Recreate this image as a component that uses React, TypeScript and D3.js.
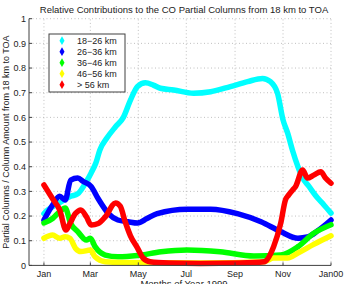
import * as d3 from "d3";

// day of year -> fraction
const cyan18_26: [number, number][] = [
  [1, 0.21], [6, 0.225], [19, 0.25], [35, 0.28], [44, 0.29], [55, 0.34], [61, 0.375],
  [67, 0.415], [72, 0.467], [81, 0.516], [92, 0.562], [102, 0.6], [111, 0.67], [120, 0.725],
  [130, 0.74], [140, 0.731], [149, 0.718], [166, 0.711], [191, 0.698], [213, 0.704],
  [238, 0.725], [260, 0.745], [279, 0.758], [289, 0.745], [298, 0.698], [305, 0.59],
  [311, 0.535], [317, 0.467], [324, 0.4], [330, 0.354], [338, 0.32], [349, 0.273],
  [357, 0.245], [366, 0.212],
];
const blue26_36: [number, number][] = [
  [1, 0.184], [12, 0.245], [21, 0.28], [28, 0.265], [35, 0.346], [44, 0.354], [51, 0.34],
  [61, 0.32], [70, 0.27], [83, 0.21], [95, 0.184], [108, 0.177], [120, 0.172], [132, 0.19],
  [145, 0.21], [183, 0.228], [213, 0.228], [247, 0.21], [277, 0.177], [302, 0.137],
  [324, 0.11], [336, 0.115], [349, 0.14], [366, 0.184],
];
const green36_46: [number, number][] = [
  [1, 0.172], [12, 0.19], [21, 0.218], [28, 0.233], [35, 0.17], [44, 0.137], [55, 0.103],
  [60, 0.11], [66, 0.076], [79, 0.042], [95, 0.035], [120, 0.04], [150, 0.055], [183, 0.062],
  [225, 0.055], [268, 0.038], [302, 0.042], [324, 0.076], [344, 0.13], [366, 0.165],
];
const yellow46_56: [number, number][] = [
  [1, 0.11], [12, 0.123], [21, 0.11], [28, 0.116], [34, 0.11], [41, 0.07], [48, 0.056],
  [60, 0.062], [66, 0.035], [79, 0.015], [100, 0.012], [200, 0.01], [281, 0.015],
  [293, 0.03], [311, 0.03], [324, 0.05], [344, 0.085], [366, 0.12],
];
const redAbove56: [number, number][] = [
  [1, 0.326], [12, 0.27], [21, 0.225], [29, 0.143], [34, 0.17], [41, 0.21], [48, 0.225],
  [55, 0.197], [61, 0.164], [70, 0.17], [79, 0.197], [92, 0.253], [98, 0.24], [104, 0.18],
  [111, 0.12], [120, 0.07], [127, 0.03], [136, 0.015], [160, 0.01], [200, 0.008],
  [250, 0.01], [281, 0.015], [293, 0.076], [302, 0.17], [308, 0.265], [312, 0.285],
  [317, 0.305], [321, 0.32], [330, 0.387], [336, 0.354], [344, 0.366], [353, 0.38],
  [359, 0.354], [366, 0.333],
];

const seriesNames = ["18\u221226 km", "26\u221236 km", "36\u221246 km", "46\u221256 km", "> 56 km"];
const seriesColors = ["#00ffff", "#0000ff", "#00ff00", "#ffff00", "#ff0000"];
const seriesData = [cyan18_26, blue26_36, green36_46, yellow46_56, redAbove56];

const monthTicks = [1, 60, 121, 182, 244, 305, 366];
const monthLabels = ["Jan", "Mar", "May", "Jul", "Sep", "Nov", "Jan00"];
const yTicks = [0, 0.1, 0.2, 0.3, 0.4, 0.5, 0.6, 0.7, 0.8, 0.9, 1];

const W = 345;
const H = 284;
const font = "'Liberation Sans', Arial, Helvetica, sans-serif";

export default function App() {
  const x = d3.scaleLinear().domain([-18, 366]).range([29, 331]);
  const y = d3.scaleLinear().domain([0, 1]).range([265.4, 18.7]);
  const line = d3
    .line<[number, number]>()
    .x((d) => x(d[0]))
    .y((d) => y(d[1]))
    .curve(d3.curveMonotoneX);
  const diamond = d3.symbol().type(d3.symbolDiamond).size(22)();

  const [x0, x1] = x.range();
  const [yb, yt] = y.range();

  return (
    <svg
      width={W}
      height={H}
      style={{ position: "absolute", left: 0, top: 0, background: "#fff" }}
      fontFamily={font}
    >
      {/* grid */}
      <g stroke="#b0b0b0" strokeWidth={0.8} strokeDasharray="1,2.5">
        {yTicks.slice(1).map((t) => (
          <line key={"gy" + t} x1={x0} x2={x1} y1={y(t)} y2={y(t)} />
        ))}
        {monthTicks.map((t) => (
          <line key={"gx" + t} x1={x(t)} x2={x(t)} y1={yb} y2={yt} />
        ))}
      </g>

      {/* series */}
      <g fill="none" strokeWidth={5.5} strokeLinecap="round" strokeLinejoin="round">
        {seriesData.map((s, i) => (
          <path key={i} d={line(s) || ""} stroke={seriesColors[i]} />
        ))}
      </g>

      {/* axes */}
      <g stroke="#404040" strokeWidth={1}>
        <line x1={x0} x2={x0} y1={yb} y2={yt} />
        <line x1={x0} x2={x1} y1={yb} y2={yb} />
        {yTicks.map((t) => (
          <line key={"ty" + t} x1={x0} x2={x0 + 3} y1={y(t)} y2={y(t)} />
        ))}
        {monthTicks.map((t) => (
          <line key={"tx" + t} x1={x(t)} x2={x(t)} y1={yb} y2={yb - 3} />
        ))}
      </g>
      <g fontSize={9} fill="#222">
        {yTicks.map((t) => (
          <text key={"ly" + t} x={x0 - 3} y={y(t)} dy="0.35em" textAnchor="end">
            {t === 0 || t === 1 ? String(t) : t.toFixed(1)}
          </text>
        ))}
        {monthTicks.map((t, i) => (
          <text key={"lx" + t} x={x(t)} y={yb + 11.5} textAnchor="middle">
            {monthLabels[i]}
          </text>
        ))}
      </g>

      {/* titles */}
      <text x={184} y={13} fontSize={9.5} textAnchor="middle" fill="#222">
        Relative Contributions to the CO Partial Columns from 18 km to TOA
      </text>
      <text x={184} y={287} fontSize={9.5} textAnchor="middle" fill="#222">
        Months of Year 1999
      </text>
      <text
        transform={`translate(9,${(yb + yt) / 2}) rotate(-90)`}
        fontSize={9}
        textAnchor="middle"
        fill="#222"
      >
        Partial Columns / Column Amount from 18 km to TOA
      </text>

      {/* legend */}
      <g>
        <rect x={49} y={34} width={76} height={58} fill="#fff" stroke="#404040" strokeWidth={1} />
        {seriesNames.map((n, i) => (
          <g key={n} transform={`translate(0,${40.7 + i * 11})`}>
            <path d={diamond || ""} transform="translate(62,0)" fill={seriesColors[i]} />
            <text x={77} y={0} dy="0.35em" fontSize={9} fill="#222">
              {n}
            </text>
          </g>
        ))}
      </g>
    </svg>
  );
}
